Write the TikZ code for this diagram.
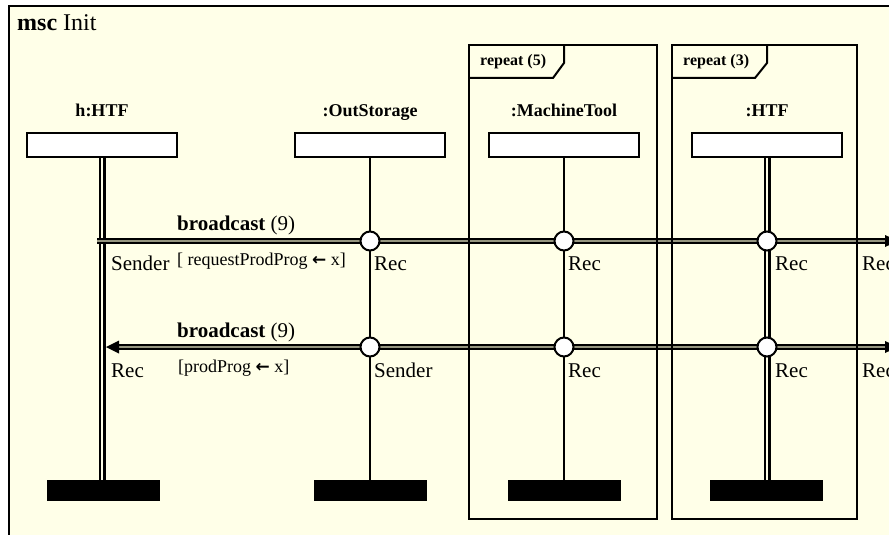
\documentclass[tikz,border=0pt]{standalone}
\usepackage{fontspec}
\setmainfont{Liberation Serif}
\newfontfamily\symfont{DejaVu Sans}
\definecolor{paper}{RGB}{255,255,232}
\definecolor{gapgray}{RGB}{150,150,128}
\newcommand{\getsarrow}{{\symfont\bfseries\fontsize{17}{17}\selectfont ←}}

\begin{document}
\begin{tikzpicture}[x=1pt,y=-1pt,
  headbox/.style={draw, fill=white, line width=2pt, minimum width=150pt, minimum height=24.5pt, inner sep=0pt},
  headlabel/.style={font=\fontsize{18}{18}\selectfont\bfseries, anchor=base, inner sep=0pt},
  endbar/.style={fill=black, minimum width=113pt, minimum height=21pt, inner sep=0pt},
  single/.style={line width=2.2pt},
  dbl/.style={draw=black, double=paper, line width=2.5pt, double distance=2pt},
  msg/.style={draw=black, double=gapgray, line width=2.6pt, double distance=1.6pt},
  port/.style={circle, draw, fill=white, line width=2pt, minimum size=19pt, inner sep=0pt},
  role/.style={font=\fontsize{21}{21}\selectfont, anchor=base west, inner sep=0pt},
  param/.style={font=\fontsize{18}{18}\selectfont, anchor=base west, inner sep=0pt},
  sig/.style={font=\fontsize{21}{21}\selectfont, anchor=base west, inner sep=0pt},
  loopframe/.style={line width=2pt},
  looptag/.style={font=\fontsize{16}{16}\selectfont\bfseries, anchor=base west, inner sep=0pt},
  title/.style={font=\fontsize{24}{24}\selectfont, anchor=base west, inner sep=0pt}
]
\useasboundingbox (0,0) rectangle (889,535);
\clip (0,0) rectangle (889,535);
\fill[white] (0,0) rectangle (889,535);

% diagram frame (continues past the right and bottom edges)
\fill[paper] (9,6) rectangle (905,550);
\draw[line width=2.6pt] (905,6) -- (9,6) -- (9,550);
\node[title] (ttl) at (17,31) {\textbf{msc} Init};

% instance heads
\node[headbox] (h1) at (102,145) {};
\node[headbox] (h2) at (370,145) {};
\node[headbox] (h3) at (564,145) {};
\node[headbox] (h4) at (767,145) {};
\node[headlabel] (n1) at (102,117) {h:HTF};
\node[headlabel] (n2) at (370,117) {:OutStorage};
\node[headlabel] (n3) at (564,117) {:MachineTool};
\node[headlabel] (n4) at (767,117) {:HTF};

% instance ends
\node[endbar] (e1) at (103.5,490.5) {};
\node[endbar] (e2) at (370.5,490.5) {};
\node[endbar] (e3) at (564.5,490.5) {};
\node[endbar] (e4) at (766.5,490.5) {};

% lifelines
\draw[dbl] (h1.south) -- (h1.south |- e1.north);
\draw[single] (h2.south) -- (h2.south |- e2.north);
\draw[single] (h3.south) -- (h3.south |- e3.north);
\draw[dbl] (h4.south) -- (h4.south |- e4.north);

% message 1: h:HTF broadcasts to the right
\coordinate (s1) at (97,241);
\coordinate (r1) at (885,241);
\draw[msg] (s1) -- (r1);
\fill (r1) ++(0,-6) -- ++(13,6) -- ++(-13,6) -- cycle;

% message 2: broadcast from :OutStorage, reaching h:HTF on the left
\coordinate (t2) at (106,347);
\coordinate (r2) at (885,347);
\draw[msg] ([xshift=11pt]t2) -- (r2);
\fill (t2) -- ++(13,-6.5) -- ++(0,13) -- cycle;
\fill (r2) ++(0,-6) -- ++(13,6) -- ++(-13,6) -- cycle;

% repeat regions
\draw[loopframe] (469,45) rectangle (657,519);
\draw[loopframe] (469,78) -- (553,78) -- (564,63) -- (564,45);
\node[looptag] (rp5) at (480,66) {repeat (5)};
\draw[loopframe] (672,45) rectangle (857,519);
\draw[loopframe] (672,78) -- (755,78) -- (767,63) -- (767,45);
\node[looptag] (rp3) at (683,66) {repeat (3)};

% ports on the lifelines
\node[port] (p12) at (370,241) {};
\node[port] (p13) at (564,241) {};
\node[port] (p14) at (767,241) {};
\node[port] (p22) at (370,347) {};
\node[port] (p23) at (564,347) {};
\node[port] (p24) at (767,347) {};

% message labels
\node[sig] (b1) at (177,230) {\textbf{broadcast} (9)};
\node[param] (a1) at (177,265) {[ requestProdProg \getsarrow{} x]};
\node[sig] (b2) at (177,337) {\textbf{broadcast} (9)};
\node[param] (a2) at (178,372) {[prodProg \getsarrow{} x]};

% roles
\node[role] (q11) at (111,270) {Sender};
\node[role] (q12) at (374,270) {Rec};
\node[role] (q13) at (568,270) {Rec};
\node[role] (q14) at (775,270) {Rec};
\node[role] (q15) at (862,270) {Rec};
\node[role] (q21) at (111,377) {Rec};
\node[role] (q22) at (374,377) {Sender};
\node[role] (q23) at (568,377) {Rec};
\node[role] (q24) at (775,377) {Rec};
\node[role] (q25) at (862,377) {Rec};
\end{tikzpicture}
\end{document}
